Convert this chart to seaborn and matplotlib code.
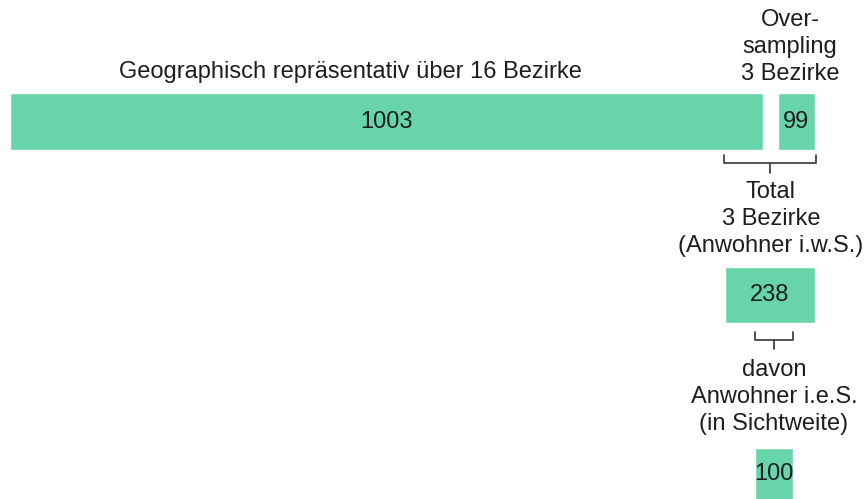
import matplotlib
matplotlib.use("Agg")
import matplotlib.pyplot as plt
import seaborn as sns

# ------------------------------
# Data
# ------------------------------
total_label = "Geographisch repräsentativ über 16 Bezirke"
total_value = 1003

over_label = "Over-\nsampling\n3 Bezirke"
over_value = 99

district_label = "Total\n3 Bezirke\n(Anwohner i.w.S.)"
district_value = 238

nearby_label = "davon\nAnwohner i.e.S.\n(in Sichtweite)"
nearby_value = 100

GREEN = "#67d4a9"
TEXT = "#1e1e1e"
BRACKET = "#444444"
FS = 17
LS = 1.32

sns.set_theme(style="white")
plt.rcParams["font.family"] = ["Liberation Sans", "DejaVu Sans"]

W, H = 865, 499
fig = plt.figure(figsize=(W / 100, H / 100), dpi=100)
fig.patch.set_facecolor("white")

# ------------------------------
# Big bar (own scale)
# ------------------------------
ax_top = fig.add_axes([10 / W, 1 - 150 / H, 753 / W, 57 / H])
sns.barplot(x=[total_value], y=["all"], orient="h", color=GREEN,
            width=1, saturation=1, ax=ax_top)
ax_top.set_xlim(0, total_value)
ax_top.set_ylim(0.5, -0.5)
ax_top.bar_label(ax_top.containers[0], label_type="center",
                 fontsize=FS, color=TEXT)
ax_top.axis("off")

# ------------------------------
# Small bars (shared scale, px per unit)
# ------------------------------
s = 90 / district_value
ax = fig.add_axes([0, 0, 1, 1], zorder=-1)
ax.set_xlim(-725 / s, (W - 725) / s)
ax.set_ylim(H, 0)
ax.axis("off")

b2 = ax.barh(121.5, over_value, left=district_value - over_value,
             height=57, color=GREEN)
b3 = ax.barh(295, district_value, left=0, height=56, color=GREEN)
b4 = ax.barh(477, nearby_value, left=79, height=58, color=GREEN)
for b in (b2, b3, b4):
    ax.bar_label(b, label_type="center", fontsize=FS, color=TEXT)

# ------------------------------
# Text and brackets (pixel coordinates)
# ------------------------------
ov = fig.add_axes([0, 0, 1, 1], zorder=2)
ov.set_xlim(0, W)
ov.set_ylim(H, 0)
ov.axis("off")
ov.patch.set_alpha(0)

ov.text(350, 72, total_label, ha="center", va="center", fontsize=FS, color=TEXT)
ov.text(790, 47, over_label, ha="center", va="center", fontsize=FS,
        color=TEXT, linespacing=LS)
ov.text(771, 219, district_label, ha="center", va="center", fontsize=FS,
        color=TEXT, linespacing=LS)
ov.text(774, 397, nearby_label, ha="center", va="center", fontsize=FS,
        color=TEXT, linespacing=LS)


def bracket(x0, x1, y0, y1, y2):
    xm = (x0 + x1) / 2
    ov.plot([x0, x0, x1, x1], [y0, y1, y1, y0], color=BRACKET, lw=1.3)
    ov.plot([xm, xm], [y1, y2], color=BRACKET, lw=1.3)


bracket(724, 816, 155, 163, 173)
bracket(755, 793, 332, 340, 349)

fig.savefig("out.png", dpi=100, facecolor="white")
